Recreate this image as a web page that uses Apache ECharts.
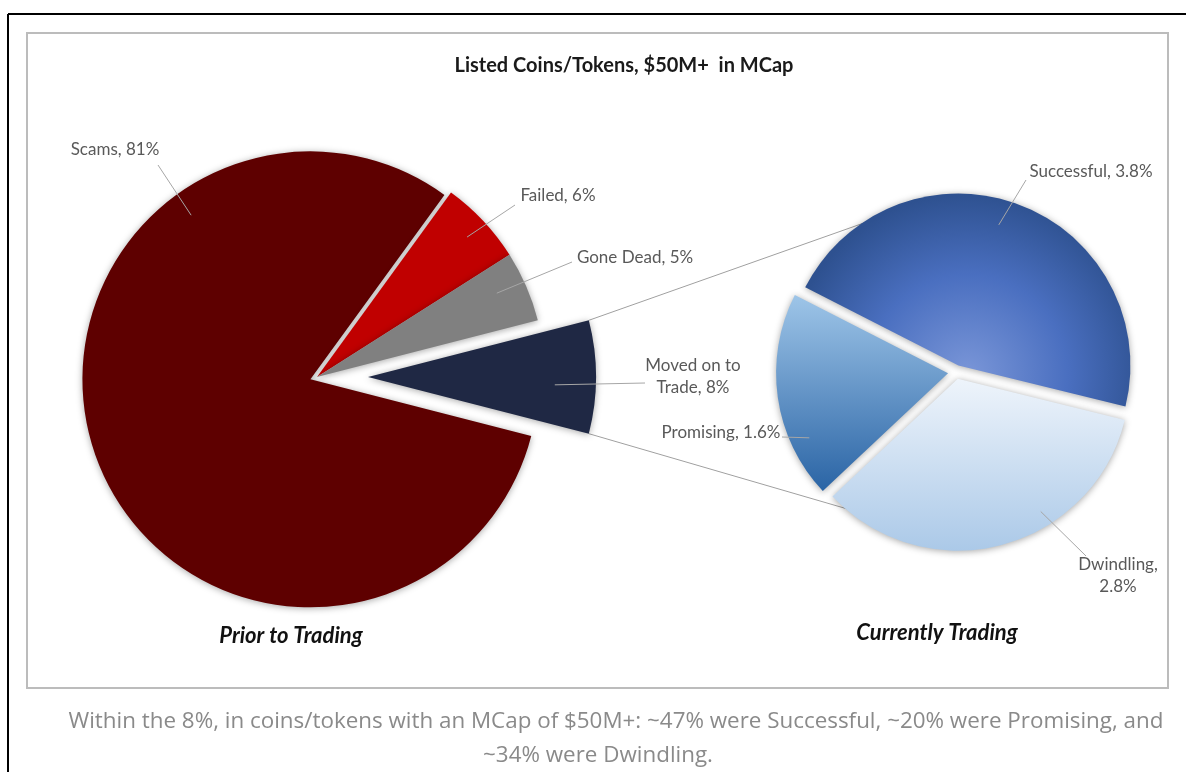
<!DOCTYPE html>
<html>
<head>
<meta charset="utf-8">
<script src="https://cdn.jsdelivr.net/npm/echarts@6/dist/echarts.min.js"></script>
<style>
html,body{margin:0;padding:0;background:#fff;}
#chart{width:1186px;height:772px;}
</style>
</head>
<body>
<div id="chart"></div>
<script>
// ---- Data ----
const leftCategories = ['Scams', 'Failed', 'Gone Dead', 'Moved on to Trade'];
const leftValues = [81, 6, 5, 8];
const rightCategories = ['Successful', 'Promising', 'Dwindling'];
const rightValues = [3.8, 1.6, 2.8];
const chartTitle = 'Listed Coins/Tokens, $50M+  in MCap';
const leftSubtitle = 'Prior to Trading';
const rightSubtitle = 'Currently Trading';
const captionLines = [
  'Within the 8%, in coins/tokens with an MCap of $50M+: ~47% were Successful, ~20% were Promising, and',
  '~34% were Dwindling.'
];

// ---- Layout / style (not data) ----
const L = { cx: 317, cy: 377, r: 228 };
const R = { cx: 956, cy: 372, r: 172 };
const leftExplode = [7, 0, 0, 51];
const rightExplode = [7, 8, 7];
const leftColors = ['#5e0000', '#c00000', '#808080', '#1f2844'];
const rightColors = [
  { type: 'radial', x: 0.5, y: 0.85, r: 0.85, colorStops: [
    { offset: 0, color: '#7a96d8' }, { offset: 0.55, color: '#4a6fc0' }, { offset: 1, color: '#2e5190' }] },
  { type: 'linear', x: 0, y: 0, x2: 0, y2: 1, colorStops: [
    { offset: 0, color: '#9ec5e8' }, { offset: 1, color: '#2a64a5' }] },
  { type: 'linear', x: 0, y: 0, x2: 0, y2: 1, colorStops: [
    { offset: 0, color: '#eef4fb' }, { offset: 1, color: '#abc9e8' }] }
];
const leftLabelPos = [[115, 150], [558, 196], [635, 258], [693, 377]];
const rightLabelPos = [[1091, 172], [721, 433], [1118, 576]];
// leader lines: start inside slice (polar: angle deg, fraction of radius), end near label
const leftLeaders = [[126, 0.89, 158, 165], [43, 0.9, 515, 205], [25, 0.87, 572, 262], [-2.4, 0.82, 645, 383]];
const rightLeaders = [[74, 0.85, 1026, 180], [205, 0.89, 782, 437], [-58, 0.91, 1086, 556]];
const connectorTargetAngles = [115, -126]; // where series lines meet the second pie

function fmtLabel(name, value) {
  if (name === 'Moved on to Trade') return 'Moved on to\nTrade, ' + value + '%';
  if (name === 'Dwindling') return name + ',\n' + value + '%';
  return name + ', ' + value + '%';
}

const rad = Math.PI / 180;
const leftSum = leftValues.reduce((a, b) => a + b, 0);
const rightSum = rightValues.reduce((a, b) => a + b, 0);
const movedAngle = leftValues[3] / leftSum * 360;
const leftStart = -movedAngle / 2;             // clockwise: Scams, Failed, Gone Dead, Moved
const successAngle = rightValues[0] / rightSum * 360;
const rightStart = 153 - successAngle;          // counter-clockwise: Successful, Promising, Dwindling

function midAngles(values, start, clockwise) {
  const sum = values.reduce((a, b) => a + b, 0);
  let a = start; const out = [];
  values.forEach(v => {
    const span = v / sum * 360 * (clockwise ? -1 : 1);
    out.push(a + span / 2); a += span;
  });
  return out;
}
const leftMid = midAngles(leftValues, leftStart, true);
const rightMid = midAngles(rightValues, rightStart, false);

const shadow = { shadowBlur: 7, shadowColor: 'rgba(0,0,0,0.35)', shadowOffsetX: 0, shadowOffsetY: 1 };
const labelFont = { fontFamily: 'Lato', fontSize: 17, color: '#595959', lineHeight: 22 };
const clear = 'rgba(0,0,0,0)';

function sliceSeries(P, cats, vals, colors, mids, explode, start, clockwise, labelPos) {
  return cats.map((c, k) => {
    const cx = P.cx + explode[k] * Math.cos(mids[k] * rad);
    const cy = P.cy - explode[k] * Math.sin(mids[k] * rad);
    return {
      type: 'pie', z: 2,
      center: [cx, cy], radius: [0, P.r],
      startAngle: start, clockwise: clockwise,
      avoidLabelOverlap: false, silent: true,
      emphasis: { disabled: true },
      label: Object.assign({ show: true, formatter: p => fmtLabel(p.name, p.value), align: 'center' }, labelFont),
      labelLine: { show: false },
      labelLayout: p => ({ x: labelPos[p.dataIndex][0], y: labelPos[p.dataIndex][1], align: 'center', verticalAlign: 'middle' }),
      data: cats.map((n, i) => i === k
        ? { name: n, value: vals[i], itemStyle: Object.assign({ color: colors[i] }, shadow) }
        : { name: n, value: vals[i], itemStyle: { color: clear, shadowBlur: 0 }, label: { show: false } })
    };
  });
}

function leaders(P, mids, explode, defs) {
  return defs.map((d, i) => {
    const cx = P.cx + explode[i] * Math.cos(mids[i] * rad);
    const cy = P.cy - explode[i] * Math.sin(mids[i] * rad);
    const x1 = cx + P.r * d[1] * Math.cos(d[0] * rad);
    const y1 = cy - P.r * d[1] * Math.sin(d[0] * rad);
    return { type: 'line', z: 10, shape: { x1, y1, x2: d[2], y2: d[3] }, style: { stroke: '#a6a6a6', lineWidth: 1 } };
  });
}

const movedCx = L.cx + leftExplode[3] * Math.cos(leftMid[3] * rad);
const movedCy = L.cy - leftExplode[3] * Math.sin(leftMid[3] * rad);
const conn = [movedAngle / 2, -movedAngle / 2].map((a, i) => {
  const x1 = movedCx + L.r * Math.cos(a * rad);
  const y1 = movedCy - L.r * Math.sin(a * rad);
  const t = connectorTargetAngles[i];
  const x2 = R.cx + R.r * Math.cos(t * rad);
  const y2 = R.cy - R.r * Math.sin(t * rad);
  return { type: 'line', z: 1, shape: { x1, y1, x2, y2 }, style: { stroke: '#a0a0a0', lineWidth: 1 } };
});

const chart = echarts.init(document.getElementById('chart'));
chart.setOption({
  animation: false,
  graphic: [
    { type: 'line', shape: { x1: 8, y1: 14, x2: 1186, y2: 14 }, style: { stroke: '#000', lineWidth: 2 } },
    { type: 'line', shape: { x1: 8, y1: 14, x2: 8, y2: 772 }, style: { stroke: '#000', lineWidth: 2 } },
    { type: 'rect', shape: { x: 27, y: 33, width: 1141, height: 655 }, style: { fill: 'none', stroke: '#bcbcbc', lineWidth: 2 } },
    ...conn,
    ...leaders(L, leftMid, leftExplode, leftLeaders),
    ...leaders(R, rightMid, rightExplode, rightLeaders),
    { type: 'text', x: 624, y: 66, style: { text: chartTitle, textAlign: 'center', textVerticalAlign: 'middle', font: 'bold 20px Lato', fill: '#1a1a1a' } },
    { type: 'text', x: 291, y: 636, style: { text: leftSubtitle, textAlign: 'center', textVerticalAlign: 'middle', font: 'italic bold 22px Lato', fill: '#111' } },
    { type: 'text', x: 937, y: 633, style: { text: rightSubtitle, textAlign: 'center', textVerticalAlign: 'middle', font: 'italic bold 22px Lato', fill: '#111' } },
    { type: 'text', x: 616, y: 722, style: { text: captionLines[0], textAlign: 'center', textVerticalAlign: 'middle', font: '22.4px "Open Sans"', fill: '#8a8a8a' } },
    { type: 'text', x: 598, y: 756, style: { text: captionLines[1], textAlign: 'center', textVerticalAlign: 'middle', font: '22.4px "Open Sans"', fill: '#8a8a8a' } }
  ],
  series: [
    ...sliceSeries(L, leftCategories, leftValues, leftColors, leftMid, leftExplode, leftStart, true, leftLabelPos),
    ...sliceSeries(R, rightCategories, rightValues, rightColors, rightMid, rightExplode, rightStart, false, rightLabelPos)
  ]
});
</script>
</body>
</html>
